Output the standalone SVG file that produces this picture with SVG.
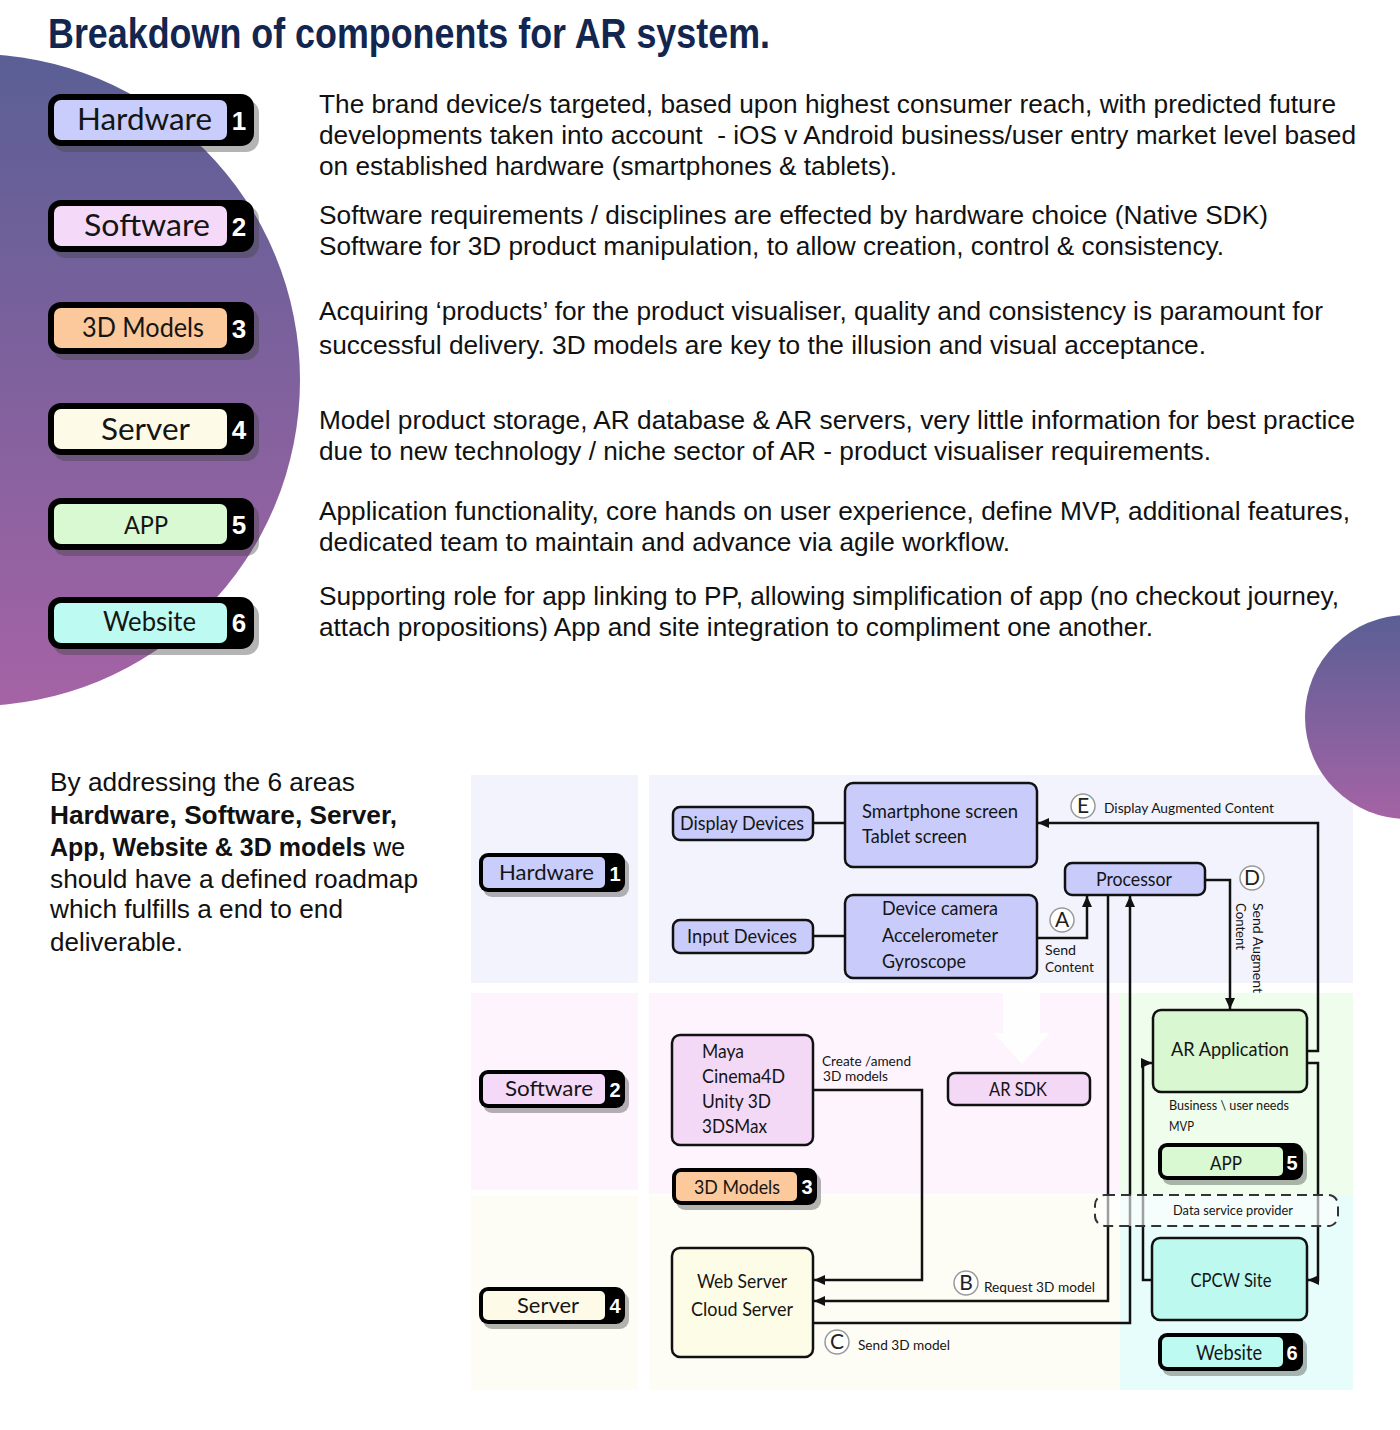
<svg xmlns="http://www.w3.org/2000/svg" width="1400" height="1430" viewBox="0 0 1400 1430">
<defs>
<linearGradient id="gBig" x1="0" y1="0" x2="0" y2="1">
<stop offset="0" stop-color="#5a5f95"/>
<stop offset="1" stop-color="#a563a5"/>
</linearGradient>
<marker id="arr" markerUnits="userSpaceOnUse" markerWidth="12" markerHeight="12" refX="11" refY="6" orient="auto">
<path d="M0,1 L11,6 L0,11 z" fill="#111"/>
</marker>
<style>
.desc{font-family:"Liberation Sans",Arial,sans-serif;font-size:25px;fill:#111}
.para{font-family:"Liberation Sans",Arial,sans-serif;font-size:25px;fill:#111}
.my{font-family:Lato,"Open Sans",sans-serif;fill:#151515}
.num{font-family:"Liberation Sans",Arial,sans-serif;font-weight:bold;fill:#fff;text-anchor:middle}
.bo{fill:#000}
.sh{fill:#444;opacity:0.4}
.box{stroke:#111;stroke-width:2.5}
.con{fill:none;stroke:#111;stroke-width:2.5}
.lc{fill:#fff;stroke:#999;stroke-width:1.5}
.lt{font-family:Lato,"Open Sans",sans-serif;font-size:21px;fill:#222;text-anchor:middle}
.sm{font-family:Lato,"Open Sans",sans-serif;font-size:14px;fill:#151515}
</style>
</defs>
<rect width="1400" height="1430" fill="#fff"/>

<!-- decorative circles -->
<circle cx="-26" cy="380" r="326" fill="url(#gBig)"/>

<text x="48" y="48" font-family="'Liberation Sans Narrow','Liberation Sans',Arial,sans-serif" font-size="42" font-weight="bold" fill="#13264f" textLength="722" lengthAdjust="spacingAndGlyphs">Breakdown of components for AR system.</text>

<!-- large badges -->
<g id="badge-hardware">
<rect class="sh" x="53" y="100" width="206" height="52" rx="13"/>
<rect class="bo" x="48" y="94" width="206" height="52" rx="13"/>
<rect x="54" y="100" width="173" height="40" rx="7" fill="#c9cdfb"/>
<text class="my" x="144.5" y="130" font-size="31" text-anchor="middle" textLength="135" lengthAdjust="spacingAndGlyphs">Hardware</text>
<text class="num" x="239" y="130" font-size="26">1</text>
</g>
<g id="badge-software">
<rect class="sh" x="53" y="206" width="206" height="52" rx="13"/>
<rect class="bo" x="48" y="200" width="206" height="52" rx="13"/>
<rect x="54" y="206" width="173" height="40" rx="7" fill="#f5d9f8"/>
<text class="my" x="147" y="236" font-size="31" text-anchor="middle" textLength="126" lengthAdjust="spacingAndGlyphs">Software</text>
<text class="num" x="239" y="236" font-size="26">2</text>
</g>
<g id="badge-3dmodels">
<rect class="sh" x="53" y="308" width="206" height="52" rx="13"/>
<rect class="bo" x="48" y="302" width="206" height="52" rx="13"/>
<rect x="54" y="308" width="173" height="40" rx="7" fill="#fbc99b"/>
<text class="my" x="143" y="337" font-size="26" text-anchor="middle" textLength="122" lengthAdjust="spacingAndGlyphs">3D Models</text>
<text class="num" x="239" y="338" font-size="26">3</text>
</g>
<g id="badge-server">
<rect class="sh" x="53" y="409" width="206" height="52" rx="13"/>
<rect class="bo" x="48" y="403" width="206" height="52" rx="13"/>
<rect x="54" y="409" width="173" height="40" rx="7" fill="#fdfbe7"/>
<text class="my" x="145.5" y="440" font-size="31" text-anchor="middle" textLength="89" lengthAdjust="spacingAndGlyphs">Server</text>
<text class="num" x="239" y="439" font-size="26">4</text>
</g>
<g id="badge-app">
<rect class="sh" x="53" y="504" width="206" height="52" rx="13"/>
<rect class="bo" x="48" y="498" width="206" height="52" rx="13"/>
<rect x="54" y="504" width="173" height="40" rx="7" fill="#d9f9d2"/>
<text class="my" x="146" y="534" font-size="25" text-anchor="middle" textLength="44" lengthAdjust="spacingAndGlyphs">APP</text>
<text class="num" x="239" y="534" font-size="26">5</text>
</g>
<g id="badge-website">
<rect class="sh" x="53" y="603" width="206" height="52" rx="13"/>
<rect class="bo" x="48" y="597" width="206" height="52" rx="13"/>
<rect x="54" y="603" width="173" height="40" rx="7" fill="#bdfaf1"/>
<text class="my" x="149.5" y="631" font-size="27" text-anchor="middle" textLength="93" lengthAdjust="spacingAndGlyphs">Website</text>
<text class="num" x="239" y="632" font-size="26">6</text>
</g>

<!-- descriptions -->
<g id="descriptions">
<text class="desc" x="319" y="113" textLength="1017" lengthAdjust="spacingAndGlyphs">The brand device/s targeted, based upon highest consumer reach, with predicted future</text>
<text class="desc" x="319" y="144" textLength="1037" lengthAdjust="spacingAndGlyphs" xml:space="preserve">developments taken into account  - iOS v Android business/user entry market level based</text>
<text class="desc" x="319" y="175" textLength="578" lengthAdjust="spacingAndGlyphs">on established hardware (smartphones &amp; tablets).</text>
<text class="desc" x="319" y="224" textLength="949" lengthAdjust="spacingAndGlyphs">Software requirements / disciplines are effected by hardware choice (Native SDK)</text>
<text class="desc" x="319" y="255" textLength="905" lengthAdjust="spacingAndGlyphs">Software for 3D product manipulation, to allow creation, control &amp; consistency.</text>
<text class="desc" x="319" y="320" textLength="1004" lengthAdjust="spacingAndGlyphs">Acquiring ‘products’ for the product visualiser, quality and consistency is paramount for</text>
<text class="desc" x="319" y="354" textLength="887" lengthAdjust="spacingAndGlyphs">successful delivery. 3D models are key to the illusion and visual acceptance.</text>
<text class="desc" x="319" y="429" textLength="1036" lengthAdjust="spacingAndGlyphs">Model product storage, AR database &amp; AR servers, very little information for best practice</text>
<text class="desc" x="319" y="460" textLength="892" lengthAdjust="spacingAndGlyphs">due to new technology / niche sector of AR - product visualiser requirements.</text>
<text class="desc" x="319" y="520" textLength="1031" lengthAdjust="spacingAndGlyphs">Application functionality, core hands on user experience, define MVP, additional features,</text>
<text class="desc" x="319" y="551" textLength="691" lengthAdjust="spacingAndGlyphs">dedicated team to maintain and advance via agile workflow.</text>
<text class="desc" x="319" y="605" textLength="1020" lengthAdjust="spacingAndGlyphs">Supporting role for app linking to PP, allowing simplification of app (no checkout journey,</text>
<text class="desc" x="319" y="636" textLength="834" lengthAdjust="spacingAndGlyphs">attach propositions) App and site integration to compliment one another.</text>
</g>

<!-- lower left paragraph -->
<g id="summary">
<text class="para" x="50" y="791" textLength="305" lengthAdjust="spacingAndGlyphs">By addressing the 6 areas</text>
<text class="para" x="50" y="824" font-weight="bold" textLength="347" lengthAdjust="spacingAndGlyphs">Hardware, Software, Server,</text>
<text class="para" x="50" y="856"><tspan font-weight="bold">App, Website &amp; 3D models</tspan> we</text>
<text class="para" x="50" y="888" textLength="368" lengthAdjust="spacingAndGlyphs">should have a defined roadmap</text>
<text class="para" x="50" y="918" textLength="293" lengthAdjust="spacingAndGlyphs">which fulfills a end to end</text>
<text class="para" x="50" y="951" textLength="133" lengthAdjust="spacingAndGlyphs">deliverable.</text>
</g>

<!-- diagram panels -->
<g id="panels">
<rect x="471" y="775" width="167" height="208" fill="#f3f3fd"/>
<rect x="649" y="775" width="704" height="208" fill="#f3f3fd"/>
<rect x="471" y="993" width="167" height="197" fill="#fdf4fd"/>
<rect x="649" y="993" width="471" height="201" fill="#fdf4fd"/>
<rect x="1120" y="993" width="233" height="202" fill="#effdec"/>
<rect x="471" y="1196" width="167" height="194" fill="#fdfdf6"/>
<rect x="649" y="1195" width="471" height="195" fill="#fdfdf6"/>
<rect x="1120" y="1195" width="233" height="195" fill="#e6fdfb"/>
<polygon points="1003,983 1040,983 1040,1033 1050,1033 1022,1064 994,1033 1003,1033" fill="#fff" opacity="0.85"/>
</g>

<circle cx="1407" cy="717" r="102" fill="url(#gBig)"/>

<!-- diagram badges -->
<g id="d-hardware">
<rect class="sh" x="483" y="858" width="146" height="39" rx="9"/>
<rect class="bo" x="479" y="853" width="146" height="39" rx="9"/>
<rect x="483" y="857" width="122" height="31" rx="5" fill="#c9cdfb"/>
<text class="my" x="546.5" y="880" font-size="22" text-anchor="middle" textLength="95" lengthAdjust="spacingAndGlyphs">Hardware</text>
<text class="num" x="615" y="881" font-size="20">1</text>
</g>
<g id="d-software">
<rect class="sh" x="483" y="1075" width="146" height="38" rx="9"/>
<rect class="bo" x="479" y="1070" width="146" height="38" rx="9"/>
<rect x="483" y="1074" width="122" height="30" rx="5" fill="#f5d9f8"/>
<text class="my" x="549" y="1096" font-size="22" text-anchor="middle" textLength="88" lengthAdjust="spacingAndGlyphs">Software</text>
<text class="num" x="615" y="1097" font-size="20">2</text>
</g>
<g id="d-server">
<rect class="sh" x="483" y="1292" width="146" height="37" rx="9"/>
<rect class="bo" x="479" y="1287" width="146" height="37" rx="9"/>
<rect x="483" y="1291" width="122" height="29" rx="5" fill="#fdfbe7"/>
<text class="my" x="548" y="1313" font-size="22" text-anchor="middle" textLength="62" lengthAdjust="spacingAndGlyphs">Server</text>
<text class="num" x="615" y="1313" font-size="20">4</text>
</g>
<g id="d-3dmodels">
<rect class="sh" x="676" y="1173" width="145" height="37" rx="9"/>
<rect class="bo" x="672" y="1168" width="145" height="37" rx="9"/>
<rect x="676" y="1172" width="121" height="29" rx="5" fill="#fbc99b"/>
<text class="my" x="737" y="1194" font-size="20" text-anchor="middle" textLength="86" lengthAdjust="spacingAndGlyphs">3D Models</text>
<text class="num" x="807" y="1194" font-size="20">3</text>
</g>
<g id="d-app">
<rect class="sh" x="1162" y="1148" width="145" height="37" rx="9"/>
<rect class="bo" x="1158" y="1143" width="145" height="37" rx="9"/>
<rect x="1162" y="1147" width="121" height="29" rx="5" fill="#d9f9d2"/>
<text class="my" x="1226" y="1170" font-size="20" text-anchor="middle" textLength="32" lengthAdjust="spacingAndGlyphs">APP</text>
<text class="num" x="1292" y="1170" font-size="20">5</text>
</g>
<g id="d-website">
<rect class="sh" x="1162" y="1338" width="145" height="38" rx="9"/>
<rect class="bo" x="1158" y="1333" width="145" height="38" rx="9"/>
<rect x="1162" y="1337" width="121" height="30" rx="5" fill="#bdfaf1"/>
<text class="my" x="1229" y="1360" font-size="21" text-anchor="middle" textLength="66" lengthAdjust="spacingAndGlyphs">Website</text>
<text class="num" x="1292" y="1360" font-size="20">6</text>
</g>

<!-- connectors -->
<g id="connectors">
<path class="con" d="M813 823 H845"/>
<path class="con" d="M813 936 H845"/>
<path class="con" d="M1037 938 H1087 V896" marker-end="url(#arr)"/>
<path class="con" d="M1205 880 H1230 V1009" marker-end="url(#arr)"/>
<path class="con" d="M1307 1051 H1318 V823 H1038" marker-end="url(#arr)"/>
<path class="con" d="M1307 1063 H1318 V1280 H1308" marker-end="url(#arr)"/>
<path class="con" d="M1152 1280 H1143 V1063 H1152" marker-end="url(#arr)"/>
<path class="con" d="M813 1090 H922 V1280 H814" marker-end="url(#arr)"/>
<path class="con" d="M1108 895 V1301 H814" marker-end="url(#arr)"/>
<path class="con" d="M813 1323 H1130 V896" marker-end="url(#arr)"/>
</g>

<!-- nodes -->
<g id="n-display">
<rect class="box" x="673" y="807" width="140" height="33" rx="7" fill="#c9ccfb"/>
<text class="my" x="680" y="830" font-size="19" textLength="124" lengthAdjust="spacingAndGlyphs">Display Devices</text>
</g>
<g id="n-input">
<rect class="box" x="673" y="920" width="140" height="33" rx="7" fill="#c9ccfb"/>
<text class="my" x="687" y="943" font-size="19" textLength="110" lengthAdjust="spacingAndGlyphs">Input Devices</text>
</g>
<g id="n-screens">
<rect class="box" x="845" y="783" width="192" height="84" rx="8" fill="#c9ccfb"/>
<text class="my" x="862" y="818" font-size="19" textLength="156" lengthAdjust="spacingAndGlyphs">Smartphone screen</text>
<text class="my" x="862" y="843" font-size="19" textLength="105" lengthAdjust="spacingAndGlyphs">Tablet screen</text>
</g>
<g id="n-sensors">
<rect class="box" x="845" y="895" width="192" height="83" rx="8" fill="#c9ccfb"/>
<text class="my" x="882" y="915" font-size="19" textLength="116" lengthAdjust="spacingAndGlyphs">Device camera</text>
<text class="my" x="882" y="942" font-size="19" textLength="116" lengthAdjust="spacingAndGlyphs">Accelerometer</text>
<text class="my" x="882" y="968" font-size="19" textLength="84" lengthAdjust="spacingAndGlyphs">Gyroscope</text>
</g>
<g id="n-processor">
<rect class="box" x="1065" y="863" width="140" height="32" rx="7" fill="#c9ccfb"/>
<text class="my" x="1134" y="886" font-size="19" text-anchor="middle" textLength="76" lengthAdjust="spacingAndGlyphs">Processor</text>
</g>
<g id="n-arapp">
<rect class="box" x="1153" y="1010" width="154" height="82" rx="8" fill="#d9f8d2"/>
<text class="my" x="1230" y="1056" font-size="19" text-anchor="middle" textLength="118" lengthAdjust="spacingAndGlyphs">AR Application</text>
</g>
<g id="n-tools">
<rect class="box" x="672" y="1035" width="141" height="110" rx="8" fill="#f4d9f7"/>
<text class="my" x="702" y="1058" font-size="19" textLength="42" lengthAdjust="spacingAndGlyphs">Maya</text>
<text class="my" x="702" y="1083" font-size="19" textLength="83" lengthAdjust="spacingAndGlyphs">Cinema4D</text>
<text class="my" x="702" y="1108" font-size="19" textLength="69" lengthAdjust="spacingAndGlyphs">Unity 3D</text>
<text class="my" x="702" y="1133" font-size="19" textLength="65" lengthAdjust="spacingAndGlyphs">3DSMax</text>
</g>
<g id="n-arsdk">
<rect class="box" x="948" y="1073" width="142" height="32" rx="7" fill="#f4d9f7"/>
<text class="my" x="1018" y="1096" font-size="19" text-anchor="middle" textLength="58" lengthAdjust="spacingAndGlyphs">AR SDK</text>
</g>
<g id="n-webserver">
<rect class="box" x="672" y="1248" width="141" height="109" rx="8" fill="#fdfce6"/>
<text class="my" x="742" y="1288" font-size="19" text-anchor="middle" textLength="90" lengthAdjust="spacingAndGlyphs">Web Server</text>
<text class="my" x="742" y="1316" font-size="19" text-anchor="middle" textLength="102" lengthAdjust="spacingAndGlyphs">Cloud Server</text>
</g>
<g id="n-cpcw">
<rect class="box" x="1152" y="1238" width="155" height="82" rx="8" fill="#bdf9ef"/>
<text class="my" x="1231" y="1287" font-size="19" text-anchor="middle" textLength="81" lengthAdjust="spacingAndGlyphs">CPCW Site</text>
</g>
<g id="n-dataservice">
<rect x="1095" y="1195" width="243" height="31" rx="10" fill="#fff" fill-opacity="0.6" stroke="#333" stroke-width="2" stroke-dasharray="10 6"/>
<text class="sm" x="1233" y="1215" font-size="13" text-anchor="middle" textLength="120" lengthAdjust="spacingAndGlyphs">Data service provider</text>
</g>

<!-- labels -->
<g id="labels">
<text class="sm" x="1169" y="1110" font-size="13" textLength="120" lengthAdjust="spacingAndGlyphs">Business \ user needs</text>
<text class="sm" x="1169" y="1131" font-size="13" textLength="25" lengthAdjust="spacingAndGlyphs">MVP</text>
<circle class="lc" cx="1083" cy="806" r="12"/>
<text class="lt" x="1083" y="813">E</text>
<text class="sm" x="1104" y="813" textLength="170" lengthAdjust="spacingAndGlyphs">Display Augmented Content</text>
<circle class="lc" cx="1062" cy="920" r="12"/>
<text class="lt" x="1062" y="927">A</text>
<text class="sm" x="1045" y="955" textLength="31" lengthAdjust="spacingAndGlyphs">Send</text>
<text class="sm" x="1045" y="972" textLength="49" lengthAdjust="spacingAndGlyphs">Content</text>
<circle class="lc" cx="1252" cy="878" r="12"/>
<text class="lt" x="1252" y="885">D</text>
<text class="sm" transform="translate(1253 903) rotate(90)" textLength="90" lengthAdjust="spacingAndGlyphs">Send Augment</text>
<text class="sm" transform="translate(1236 903) rotate(90)" textLength="47" lengthAdjust="spacingAndGlyphs">Content</text>
<text class="sm" x="822" y="1066" textLength="89" lengthAdjust="spacingAndGlyphs">Create /amend</text>
<text class="sm" x="823" y="1081" textLength="65" lengthAdjust="spacingAndGlyphs">3D models</text>
<circle class="lc" cx="966" cy="1283" r="12"/>
<text class="lt" x="966" y="1290">B</text>
<text class="sm" x="984" y="1292" textLength="111" lengthAdjust="spacingAndGlyphs">Request 3D model</text>
<circle class="lc" cx="837" cy="1342" r="12"/>
<text class="lt" x="837" y="1349">C</text>
<text class="sm" x="858" y="1350" textLength="92" lengthAdjust="spacingAndGlyphs">Send 3D model</text>
</g>
</svg>
